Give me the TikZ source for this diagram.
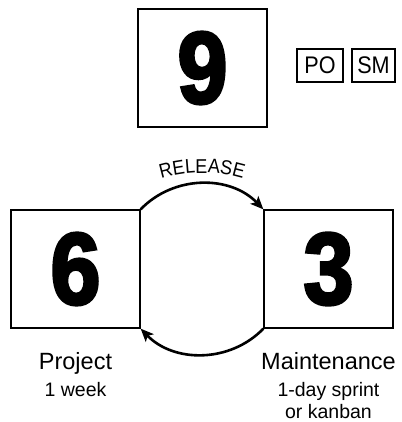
\documentclass[tikz,border=0pt]{standalone}
\usepackage{fontspec}
\setmainfont{Liberation Sans}
\newfontfamily\digitfont{Liberation Sans}[UprightFont={* Bold}, FakeBold=3, FakeStretch=0.88]
\newfontfamily\narrowfont{Liberation Sans}[FakeStretch=0.9]
\usetikzlibrary{arrows.meta, positioning, decorations.text}

\begin{document}
\begin{tikzpicture}[x=1pt, y=1pt,
    team/.style={draw, line width=1.3pt, minimum width=129pt, minimum height=118pt,
      inner sep=0pt, font=\digitfont\fontsize{102}{102}\selectfont},
    role/.style={draw, line width=1.3pt, minimum height=33pt, inner sep=0pt,
      font=\narrowfont\fontsize{24}{24}\selectfont},
    arr/.style={-{Stealth[length=13pt, width=11pt, inset=3pt]}, line width=2.6pt},
    lbl/.style={anchor=base, font=\fontsize{23.5}{26}\selectfont},
    note/.style={anchor=base, font=\fontsize{19.5}{23}\selectfont}]

  \useasboundingbox (0,0) rectangle (401,422);

  \node[team] (nine) at (202.5,354) {9};
  \node[role, minimum width=46pt] (po) at (320,356.5) {PO};
  \node[role, minimum width=43pt] (sm) at (373.5,356.5) {SM};

  \node[team] (six) at (75.5,153) {6};
  \node[team] (three) at (328.5,153) {3};

  % release over the top, back again underneath
  \draw[arr] (six.north east) to[bend left=46] (three.north west);
  \draw[arr] (three.south west) to[bend left=46] (six.south east);

  \coordinate (hub) at (202,109);
  \path[decorate, decoration={text along path, text align=center,
      text={|\narrowfont\fontsize{20}{20}\selectfont|RELEASE}}]
    ([shift={(115:140)}]hub) arc[start angle=115, end angle=65, radius=140];

  \node[lbl] (proj) at (75.5,52) {Project};
  \node[note] (projnote) at (75.5,25.5) {1 week};
  \node[lbl] (maint) at (328.5,52) {Maintenance};
  \node[note] (maintnote) at (328.5,25.5) {1-day sprint};
  \node[note] (maintalt) at (328.5,3) {or kanban};
\end{tikzpicture}
\end{document}
